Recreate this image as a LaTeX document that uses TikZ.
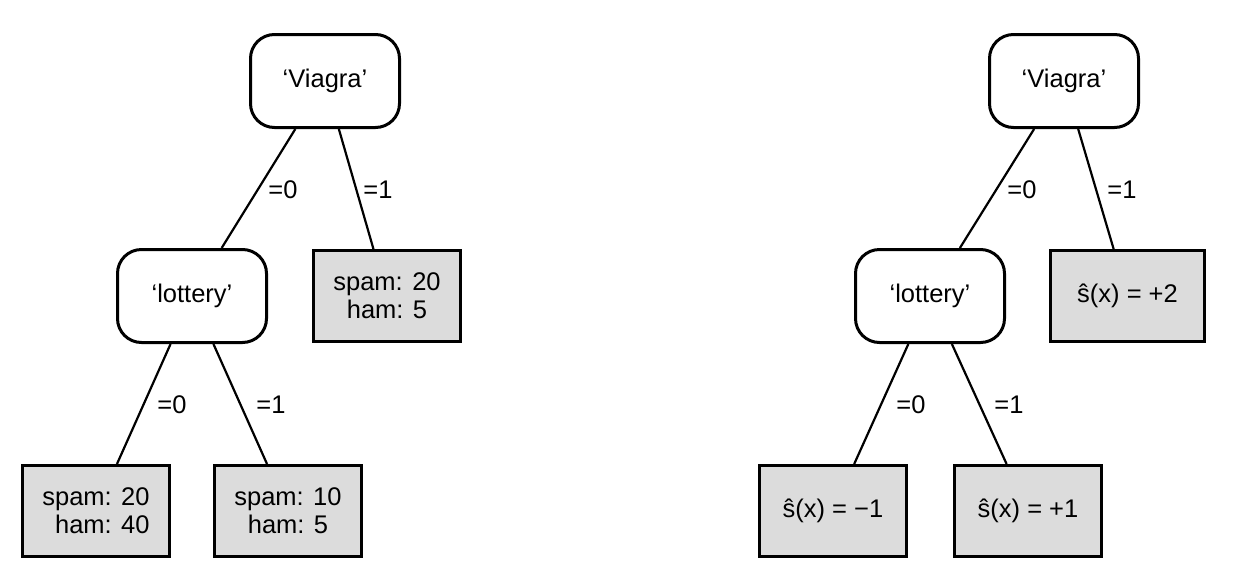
\documentclass[tikz,border=0pt]{standalone}
\usepackage{fontspec}
\setmainfont{Liberation Sans}
\usepackage{tikz}
\usetikzlibrary{arrows,shapes}
\definecolor{leafgray}{HTML}{DCDCDC}
\tikzstyle{test}=[rectangle,draw,line width=1.5pt,rounded corners=12pt,fill=white,minimum width=74.5pt,minimum height=46.5pt,inner sep=0pt]
\tikzstyle{leaf}=[rectangle,draw,line width=1.5pt,fill=leafgray,minimum width=73.5pt,minimum height=45.5pt,inner sep=0pt,align=center]
\tikzstyle{lbl}=[inner sep=0pt,anchor=west]
\tikzstyle{edge} = [draw,line width=1.1pt,-]

\begin{document}
\begin{tikzpicture}[x=0.5pt,y=-0.5pt,font=\fontsize{12.75}{14}\selectfont]
        \useasboundingbox (0,0) rectangle (1236,584);
        % counts
        \node[test] (viagraL) at (325,81) {‘Viagra’};
        \node[test] (lotteryL) at (192,296) {‘lottery’};
        \node[leaf] (leafA) at (387,296) {spam: 20\\ham: 5};
        \node[leaf,align=right] (leafB) at (96,511) {spam: 20\\ham: 40};
        \node[leaf] (leafC) at (288,511) {spam: 10\\ham: 5};
        \draw[edge] (viagraL) to (lotteryL);
        \draw[edge] (viagraL) to (leafA);
        \draw[edge] (lotteryL) to (leafB);
        \draw[edge] (lotteryL) to (leafC);
        \node[lbl] (l1) at (268,190) {=0};
        \node[lbl] (l2) at (363,190) {=1};
        \node[lbl] (l3) at (157,405) {=0};
        \node[lbl] (l4) at (256,405) {=1};
        % scores
        \node[test] (viagraR) at (1064,81) {‘Viagra’};
        \node[test] (lotteryR) at (930,296) {‘lottery’};
        \node[leaf,minimum width=77pt] (leafD) at (1127.5,296) {ŝ(x) = +2};
        \node[leaf] (leafE) at (833,511) {ŝ(x) = −1};
        \node[leaf] (leafF) at (1028,511) {ŝ(x) = +1};
        \draw[edge] (viagraR) to (lotteryR);
        \draw[edge] (viagraR) to (leafD);
        \draw[edge] (lotteryR) to (leafE);
        \draw[edge] (lotteryR) to (leafF);
        \node[lbl] (r1) at (1007,190) {=0};
        \node[lbl] (r2) at (1107,190) {=1};
        \node[lbl] (r3) at (896,405) {=0};
        \node[lbl] (r4) at (994,405) {=1};
      \end{tikzpicture}
\end{document}
